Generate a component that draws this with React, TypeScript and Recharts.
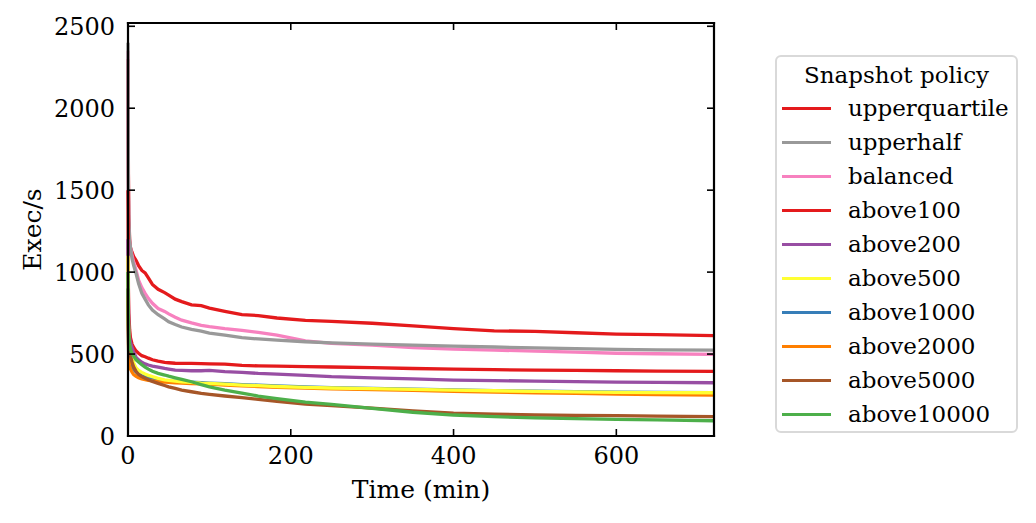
import { LineChart, Line, XAxis, YAxis, Legend } from 'recharts';

const FONT = '"DejaVu Serif", serif';

const TIME = [0, 0.5, 1, 2, 3, 5, 7, 10, 13, 17, 21, 25, 30, 37, 45, 50, 58, 66, 78, 90, 100, 119, 140, 160, 183, 218, 250, 300, 350, 400, 450, 500, 550, 600, 650, 720];

const UPPERQUARTILE = [2300, 1600, 1350, 1200, 1150, 1120, 1095, 1070, 1040, 1010, 995, 965, 925, 895, 875, 860, 835, 820, 800, 795, 780, 760, 740, 735, 720, 705, 700, 688, 672, 655, 642, 638, 630, 622, 618, 612];
const UPPERHALF = [2400, 1500, 1300, 1190, 1150, 1080, 1040, 990, 930, 870, 835, 800, 768, 740, 715, 697, 680, 665, 650, 640, 628, 615, 600, 592, 585, 575, 568, 560, 555, 549, 543, 538, 533, 528, 526, 524];
const BALANCED = [2350, 1500, 1280, 1180, 1150, 1100, 1060, 1010, 951, 905, 870, 840, 810, 778, 760, 745, 725, 707, 690, 675, 667, 655, 645, 632, 616, 580, 565, 555, 540, 530, 524, 518, 512, 505, 502, 498];
const ABOVE100 = [1500, 900, 750, 650, 600, 560, 540, 518, 505, 490, 484, 475, 465, 457, 449, 447, 444, 443, 443, 441, 440, 439, 431, 428, 426, 423, 421, 417, 412, 408, 405, 402, 400, 398, 396, 394];
const ABOVE200 = [1200, 800, 680, 600, 570, 540, 510, 480, 465, 450, 440, 433, 427, 420, 412, 408, 402, 400, 398, 398, 400, 393, 388, 382, 378, 370, 362, 355, 348, 341, 338, 335, 332, 329, 327, 325];
const ABOVE500 = [1100, 700, 600, 540, 510, 480, 445, 415, 400, 388, 378, 370, 362, 352, 343, 340, 335, 331, 327, 323, 321, 316, 311, 307, 302, 297, 293, 289, 285, 280, 276, 272, 269, 266, 265, 264];
const ABOVE1000 = [900, 600, 520, 460, 440, 420, 405, 390, 378, 368, 360, 353, 346, 340, 337, 335, 333, 330, 328, 325, 323, 319, 314, 310, 305, 299, 295, 290, 286, 281, 277, 273, 270, 267, 266, 265];
const ABOVE2000 = [850, 560, 480, 430, 410, 390, 375, 364, 355, 348, 344, 340, 336, 332, 329, 327, 325, 323, 320, 318, 316, 311, 306, 302, 297, 292, 288, 283, 278, 273, 268, 264, 260, 256, 253, 250];
const ABOVE5000 = [900, 650, 560, 510, 490, 450, 420, 393, 375, 362, 352, 343, 333, 321, 308, 300, 290, 280, 270, 260, 254, 244, 234, 224, 212, 195, 185, 170, 153, 140, 133, 128, 126, 124, 121, 118];
const ABOVE10000 = [1000, 700, 620, 560, 530, 500, 488, 465, 452, 435, 420, 408, 395, 382, 372, 365, 355, 345, 331, 313, 300, 280, 262, 244, 228, 207, 193, 168, 145, 128, 118, 111, 106, 102, 98, 93];

const X_TICKS = [0, 200, 400, 600];
const Y_TICKS = [0, 500, 1000, 1500, 2000, 2500];

// legend order
const SERIES = [
  { key: 'upperquartile', color: '#e41a1c', values: UPPERQUARTILE },
  { key: 'upperhalf', color: '#999999', values: UPPERHALF },
  { key: 'balanced', color: '#f781bf', values: BALANCED },
  { key: 'above100', color: '#e41a1c', values: ABOVE100 },
  { key: 'above200', color: '#984ea3', values: ABOVE200 },
  { key: 'above500', color: '#ffff33', values: ABOVE500 },
  { key: 'above1000', color: '#377eb8', values: ABOVE1000 },
  { key: 'above2000', color: '#ff7f00', values: ABOVE2000 },
  { key: 'above5000', color: '#a65628', values: ABOVE5000 },
  { key: 'above10000', color: '#4daf4a', values: ABOVE10000 },
];

// paint order (later on top)
const DRAW_ORDER = ['upperquartile', 'balanced', 'upperhalf', 'above100', 'above200', 'above1000', 'above2000', 'above500', 'above5000', 'above10000'];

const data = TIME.map((t, i) => {
  const row: Record<string, number> = { t };
  SERIES.forEach((s) => {
    row[s.key] = s.values[i];
  });
  return row;
});

const TICK_LEN = 7;

function BottomTick({ x, y, payload }: any) {
  return (
    <g>
      <line x1={x} x2={x} y1={y} y2={y - TICK_LEN} stroke="#000" strokeWidth={1.6} />
      <text x={x} y={y + 28} textAnchor="middle" fontFamily={FONT} fontSize={24} fill="#000">
        {payload.value}
      </text>
    </g>
  );
}

function TopTick({ x, y }: any) {
  return <line x1={x} x2={x} y1={y} y2={y + TICK_LEN} stroke="#000" strokeWidth={1.6} />;
}

function LeftTick({ x, y, payload }: any) {
  return (
    <g>
      <line x1={x} x2={x + TICK_LEN} y1={y} y2={y} stroke="#000" strokeWidth={1.6} />
      <text x={x - 13} y={y + 9} textAnchor="end" fontFamily={FONT} fontSize={24} fill="#000">
        {payload.value}
      </text>
    </g>
  );
}

function RightTick({ x, y }: any) {
  return <line x1={x} x2={x - TICK_LEN} y1={y} y2={y} stroke="#000" strokeWidth={1.6} />;
}

function PolicyLegend() {
  return (
    <div
      style={{
        boxSizing: 'border-box',
        width: 243,
        height: 378,
        border: '2px solid #d9d9d9',
        borderRadius: 6,
        background: '#fff',
        fontFamily: FONT,
        fontSize: 23,
        color: '#000',
        paddingTop: 2,
      }}
    >
      <div style={{ textAlign: 'center', height: 32, lineHeight: '32px' }}>Snapshot policy</div>
      {SERIES.map((s) => (
        <div key={s.key} style={{ display: 'flex', alignItems: 'center', height: 34 }}>
          <span style={{ display: 'block', marginLeft: 5, width: 49, height: 3, background: s.color }} />
          <span style={{ marginLeft: 17, lineHeight: '34px', whiteSpace: 'nowrap' }}>{s.key}</span>
        </div>
      ))}
    </div>
  );
}

const frame = { stroke: '#000', strokeWidth: 2.2, strokeLinecap: 'square' as const };

export default function App() {
  return (
    <div style={{ position: 'absolute', left: 0, top: 0, width: 1036, height: 523, background: '#fff' }}>
      <LineChart width={1036} height={523} data={data} margin={{ top: 22, right: 321, bottom: 0, left: 0 }}>
        <XAxis
          dataKey="t"
          type="number"
          domain={[0, 720]}
          ticks={X_TICKS}
          height={87}
          tickSize={0}
          tickMargin={0}
          tickLine={false}
          axisLine={frame}
          tick={<BottomTick />}
          interval={0}
          label={{
            content: ({ viewBox }: any) => (
              <text
                x={viewBox.x + viewBox.width / 2}
                y={viewBox.y + 62}
                textAnchor="middle"
                fontFamily={FONT}
                fontSize={25}
                fill="#000"
              >
                Time (min)
              </text>
            ),
          }}
        />
        <XAxis
          xAxisId="top"
          orientation="top"
          dataKey="t"
          type="number"
          domain={[0, 720]}
          ticks={X_TICKS}
          height={1}
          tickSize={0}
          tickMargin={0}
          tickLine={false}
          axisLine={frame}
          tick={<TopTick />}
          interval={0}
        />
        <YAxis
          type="number"
          domain={[0, 2520]}
          ticks={Y_TICKS}
          width={128}
          tickSize={0}
          tickMargin={0}
          tickLine={false}
          axisLine={frame}
          tick={<LeftTick />}
          interval={0}
          label={{
            content: ({ viewBox }: any) => {
              const cx = 32;
              const cy = viewBox.y + viewBox.height / 2;
              return (
                <text
                  x={cx}
                  y={cy}
                  transform={`rotate(-90 ${cx} ${cy})`}
                  textAnchor="middle"
                  dominantBaseline="central"
                  fontFamily={FONT}
                  fontSize={25}
                  fill="#000"
                >
                  Exec/s
                </text>
              );
            },
          }}
        />
        <YAxis
          yAxisId="right"
          orientation="right"
          type="number"
          domain={[0, 2520]}
          ticks={Y_TICKS}
          width={1}
          tickSize={0}
          tickMargin={0}
          tickLine={false}
          axisLine={frame}
          tick={<RightTick />}
          interval={0}
        />
        {/* invisible series so the mirrored frame axes get drawn */}
        <Line
          xAxisId="top"
          yAxisId="right"
          dataKey="above100"
          stroke="none"
          dot={false}
          activeDot={false}
          legendType="none"
          isAnimationActive={false}
        />
        {DRAW_ORDER.map((k) => {
          const s = SERIES.find((x) => x.key === k)!;
          return (
            <Line
              key={k}
              dataKey={k}
              type="linear"
              stroke={s.color}
              strokeWidth={3.3}
              dot={false}
              activeDot={false}
              isAnimationActive={false}
            />
          );
        })}
        <Legend
          layout="horizontal"
          align="center"
          verticalAlign="middle"
          content={() => <PolicyLegend />}
          wrapperStyle={{ left: 775, top: 55, width: 243, height: 378 }}
        />
      </LineChart>
    </div>
  );
}
